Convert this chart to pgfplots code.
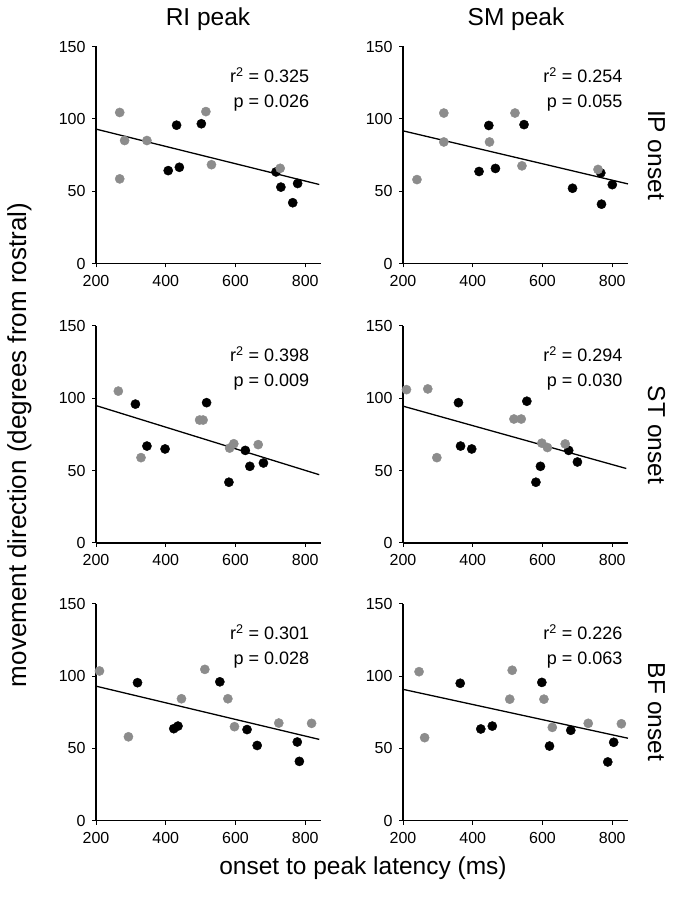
\documentclass[border=0pt]{standalone}
\usepackage{fontspec}
\setmainfont{Liberation Sans}
\usepackage{pgfplots}
\pgfplotsset{compat=1.18}
\definecolor{dotgray}{RGB}{140,140,140}
\pgfplotsset{
 panel/.style={
  scale only axis, width=225pt, height=217pt,
  xmin=200, xmax=845, ymin=0, ymax=150,
  axis x line*=bottom, axis y line*=left,
  xtick={200,400,600,800}, ytick={0,50,100,150},
  tick align=outside, major tick length=4pt,
  tick style={line width=1pt, black},
  axis line style={line width=1.2pt, black, -},
  ticklabel style={font=\fontsize{16}{18}\selectfont},
  /pgf/number format/assume math mode=true,
  xticklabel style={yshift=-4pt}, yticklabel style={xshift=-3pt},
  clip=false,
 },
 reg/.style={black, line width=1.3pt, no marks},
 gr/.style={only marks, mark=*, mark size=4.6pt, color=dotgray, mark options={draw=dotgray, fill=dotgray}},
 bk/.style={only marks, mark=*, mark size=4.6pt, color=black, mark options={draw=black, fill=black}},
}
\tikzset{stat/.style={anchor=east, inner sep=0pt, font=\fontsize{18}{21}\selectfont}}
\begin{document}
\begin{tikzpicture}
\useasboundingbox (0,0) rectangle (674pt,900pt);
% ---------- row 1: IP onset ----------
\begin{axis}[panel, at={(96pt,636.5pt)}, anchor=south west]
\addplot[reg] coordinates {(200,92.9) (840,54.6)};
\addplot[bk] coordinates {(431,95.6) (502,96.6) (407,64.2) (439,66.5) (716,63.3) (730,52.8) (764,42) (778,55.3)};
\addplot[gr] coordinates {(268,104.4) (282,85) (346,85) (268,58.5) (515,105) (531,68.3) (728,65.8)};
\node[stat] at (rel axis cs:0.948,0.869) {r\textsuperscript{2} = 0.325};
\node[stat] at (rel axis cs:0.948,0.740) {p = 0.026};
\end{axis}
\begin{axis}[panel, at={(403pt,636.5pt)}, anchor=south west]
\addplot[reg] coordinates {(200,91.7) (845,55)};
\addplot[bk] coordinates {(446,95.4) (547,96) (418,63.6) (465,65.7) (686,52) (767,62.6) (769,41) (800,54.5)};
\addplot[gr] coordinates {(240,58) (317,104) (317,84) (448,84) (521,104) (541,67.5) (759,65)};
\node[stat] at (rel axis cs:0.976,0.869) {r\textsuperscript{2} = 0.254};
\node[stat] at (rel axis cs:0.976,0.740) {p = 0.055};
\end{axis}
% ---------- row 2: ST onset ----------
\begin{axis}[panel, at={(96pt,357pt)}, anchor=south west]
\addplot[reg] coordinates {(200,95) (840,47.2)};
\addplot[bk] coordinates {(313,96) (346,67) (398,65) (517,97) (581,42) (628,64) (641,53) (680,55.3)};
\addplot[gr] coordinates {(264,105) (329,59) (497,85) (507,85) (583,65.6) (595,68.6) (665,68)};
\node[stat] at (rel axis cs:0.948,0.869) {r\textsuperscript{2} = 0.398};
\node[stat] at (rel axis cs:0.948,0.740) {p = 0.009};
\end{axis}
\begin{axis}[panel, at={(403pt,357pt)}, anchor=south west]
\addplot[reg] coordinates {(200,94.6) (840,51.5)};
\addplot[bk] coordinates {(359,97) (365,67) (397,65) (555,98) (581,42) (594,53) (675,64) (700,56)};
\addplot[gr] coordinates {(210,106) (271,106.5) (297,59) (518,85.7) (539,85.7) (598,69) (614,66) (665,68.5)};
\node[stat] at (rel axis cs:0.976,0.869) {r\textsuperscript{2} = 0.294};
\node[stat] at (rel axis cs:0.976,0.740) {p = 0.030};
\end{axis}
% ---------- row 3: BF onset ----------
\begin{axis}[panel, at={(96pt,79.3pt)}, anchor=south west]
\addplot[reg] coordinates {(200,93) (840,56.2)};
\addplot[bk] coordinates {(319,95.4) (423,63.6) (435,65.4) (555,96) (633,63) (662,52) (777,54.4) (783,41)};
\addplot[gr] coordinates {(210,103.5) (293,58) (445,84.3) (512,104.6) (578,84.3) (597,65) (724,67.5) (818,67.3)};
\node[stat] at (rel axis cs:0.948,0.869) {r\textsuperscript{2} = 0.301};
\node[stat] at (rel axis cs:0.948,0.740) {p = 0.028};
\end{axis}
\begin{axis}[panel, at={(403pt,79.3pt)}, anchor=south west]
\addplot[reg] coordinates {(200,90.8) (845,57)};
\addplot[bk] coordinates {(364,95) (423,63.4) (456,65.4) (598,95.6) (620,51.6) (681,62.5) (787,40.6) (804,54.2)};
\addplot[gr] coordinates {(246,103) (262,57.4) (506,84) (513,104) (604,84) (628,64.5) (731,67.3) (826,67)};
\node[stat] at (rel axis cs:0.976,0.869) {r\textsuperscript{2} = 0.226};
\node[stat] at (rel axis cs:0.976,0.740) {p = 0.063};
\end{axis}
% ---------- labels ----------
\node[anchor=base, font=\fontsize{24.5}{28}\selectfont] at (208pt,874pt) {RI peak};
\node[anchor=base, font=\fontsize{24.5}{28}\selectfont] at (516pt,874pt) {SM peak};
\node[anchor=base, font=\fontsize{24.5}{28}\selectfont] at (363pt,25pt) {onset to peak latency (ms)};
\node[anchor=base, rotate=90, font=\fontsize{26}{30}\selectfont] at (26pt,455pt) {movement direction (degrees from rostral)};
\node[anchor=base, rotate=-90, font=\fontsize{24.5}{28}\selectfont] at (648pt,745pt) {IP onset};
\node[anchor=base, rotate=-90, font=\fontsize{24.5}{28}\selectfont] at (648pt,465pt) {ST onset};
\node[anchor=base, rotate=-90, font=\fontsize{24.5}{28}\selectfont] at (648pt,188pt) {BF onset};
\end{tikzpicture}
\end{document}
